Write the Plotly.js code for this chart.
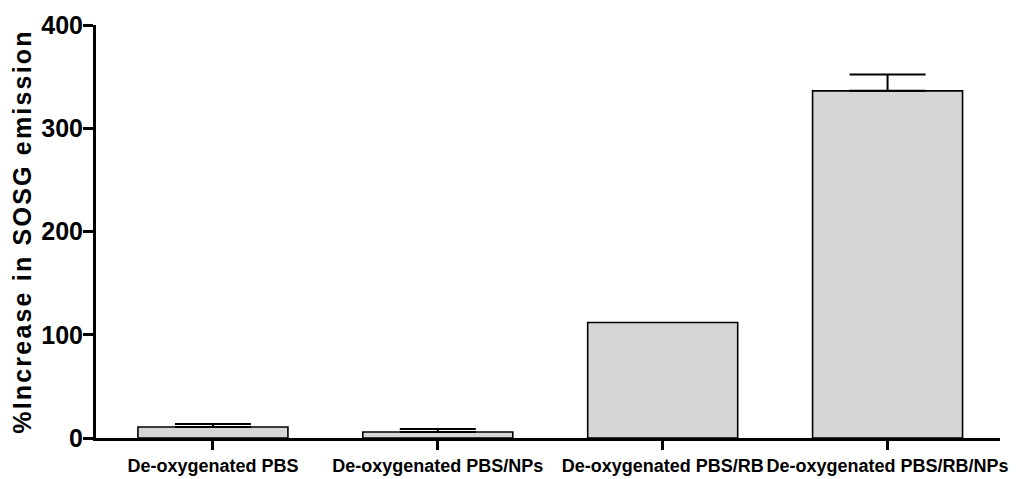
<!DOCTYPE html>
<html>
<head>
<meta charset="utf-8">
<script src="https://cdn.plot.ly/plotly-3.0.1.min.js"></script>
<style>
html,body{margin:0;padding:0;background:#fff;}
#chart{width:1027px;height:479px;}
.ytitle{letter-spacing:2.2px;}
</style>
</head>
<body>
<div id="chart"></div>
<script>
const categories = ["De-oxygenated PBS", "De-oxygenated PBS/NPs", "De-oxygenated PBS/RB", "De-oxygenated PBS/RB/NPs"];
const values = [10.6, 5.8, 111.9, 336.2];
const errors = [3.0, 2.9, null, 15.8];
const yTickVals = [0, 100, 200, 300, 400];
const yTickText = ["0", "100", "200", "300", "400"];

const font = "Liberation Sans, Arial, sans-serif";
const positions = categories.map((c, i) => i);

const barTrace = {
  type: "bar",
  x: positions,
  y: values,
  width: 0.667,
  marker: {
    color: "#d6d6d6",
    line: {color: "#000000", width: 1.6}
  },
  hoverinfo: "skip"
};

// error bars only where an error is shown
const withErr = positions.filter(i => errors[i] !== null);
const errTrace = {
  type: "scatter",
  mode: "markers",
  x: withErr,
  y: withErr.map(i => values[i]),
  marker: {size: 1, opacity: 0},
  error_y: {
    type: "data",
    symmetric: false,
    array: withErr.map(i => errors[i]),
    arrayminus: withErr.map(() => 0),
    color: "#000000",
    thickness: 2,
    width: 38,
    visible: true
  },
  hoverinfo: "skip"
};

const layout = {
  width: 1027,
  height: 479,
  margin: {l: 96, r: 27, t: 25, b: 41},
  paper_bgcolor: "#ffffff",
  plot_bgcolor: "#ffffff",
  showlegend: false,
  bargap: 0,
  xaxis: {
    range: [-0.52, 3.5],
    tickmode: "array",
    tickvals: positions,
    ticktext: categories,
    tickangle: 0,
    showline: true,
    linecolor: "#000000",
    linewidth: 3,
    ticks: "outside",
    ticklen: 9,
    tickwidth: 3,
    tickcolor: "#000000",
    showgrid: false,
    zeroline: false,
    automargin: false,
    tickfont: {family: font, size: 18, color: "#000000", weight: "bold"}
  },
  yaxis: {
    range: [0, 400],
    tickmode: "array",
    tickvals: yTickVals,
    ticktext: yTickText,
    showline: true,
    linecolor: "#000000",
    linewidth: 3,
    ticks: "outside",
    ticklen: 10,
    tickwidth: 3,
    tickcolor: "#000000",
    showgrid: false,
    zeroline: false,
    automargin: false,
    ticklabelstandoff: -5,
    tickfont: {family: font, size: 25, color: "#000000", weight: "bold"},
    title: {
      text: "%Increase in SOSG emission",
      font: {family: font, size: 25, color: "#000000", weight: "bold"},
      standoff: 3
    }
  }
};

Plotly.newPlot("chart", [barTrace, errTrace], layout, {displayModeBar: false, staticPlot: true});
</script>
</body>
</html>
